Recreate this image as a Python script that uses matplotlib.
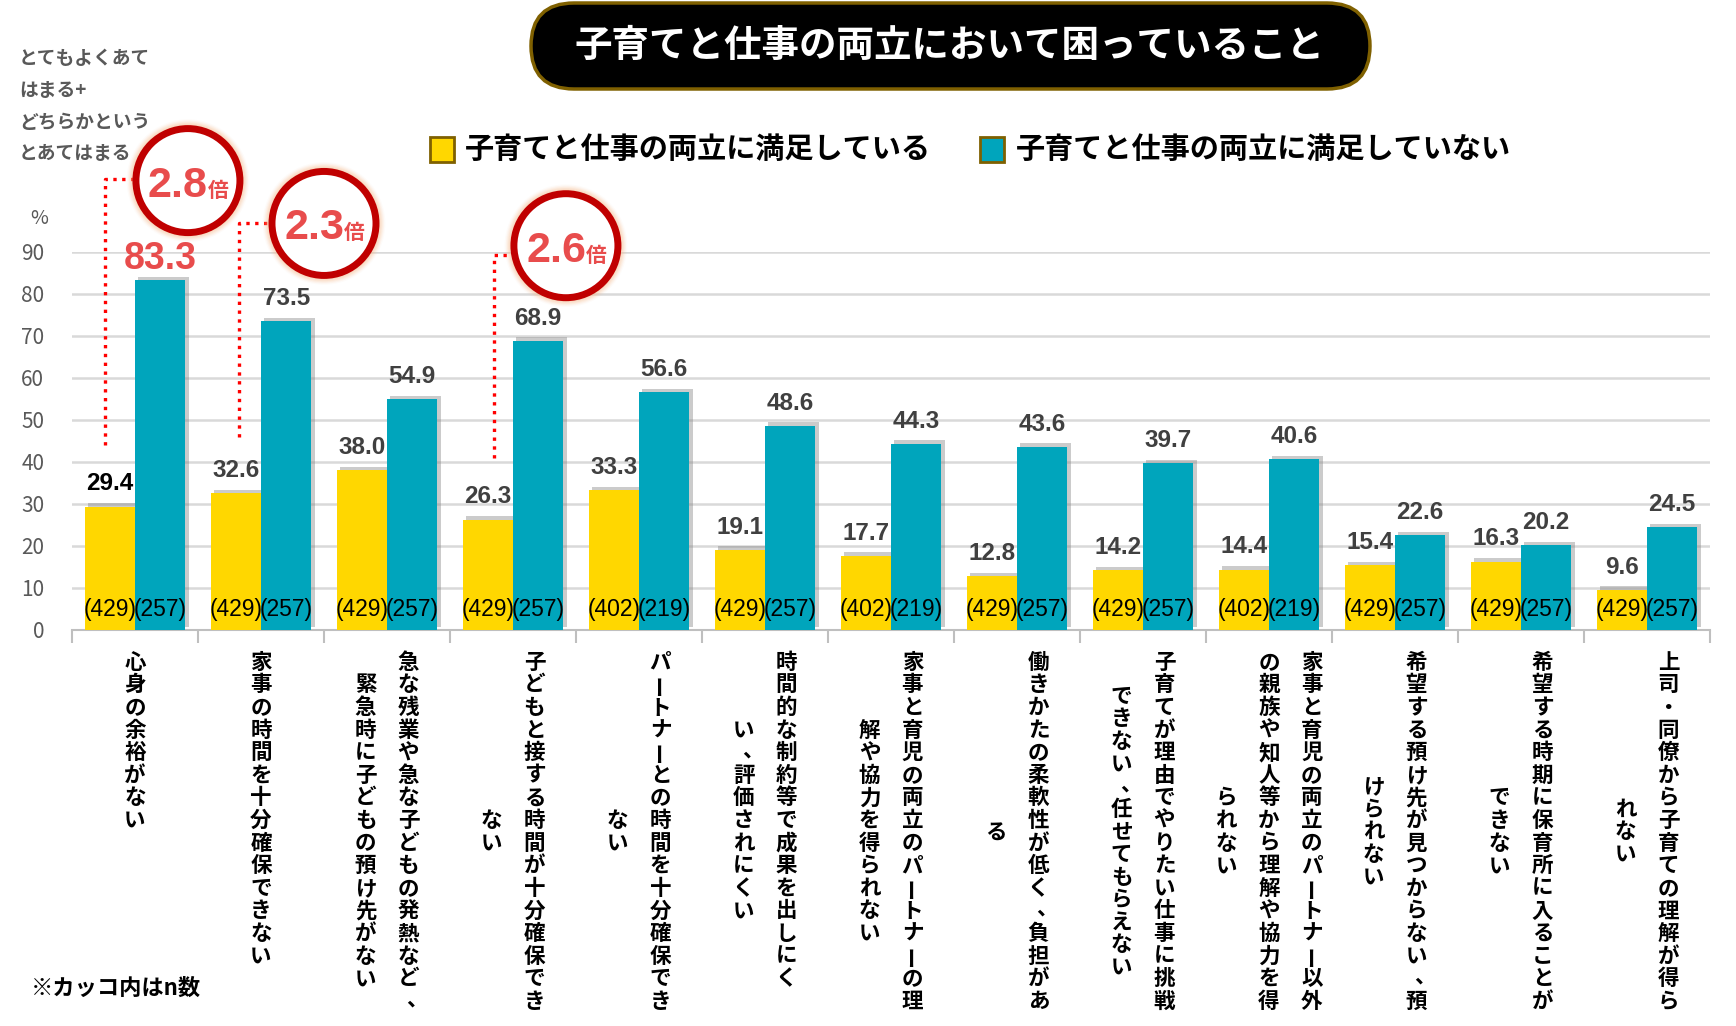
import numpy as np
import matplotlib.pyplot as plt
from matplotlib.patches import FancyBboxPatch, Rectangle, Circle
from matplotlib import patheffects
from matplotlib.transforms import ScaledTranslation, blended_transform_factory

plt.rcParams['font.family'] = ['Noto Sans CJK JP', 'DejaVu Sans']

# ---- data ----
categories = [
    ["心身の余裕がない"],
    ["家事の時間を十分確保できない"],
    ["急な残業や急な子どもの発熱など、", "緊急時に子どもの預け先がない"],
    ["子どもと接する時間が十分確保でき", "ない"],
    ["パートナーとの時間を十分確保でき", "ない"],
    ["時間的な制約等で成果を出しにく", "い、評価されにくい"],
    ["家事と育児の両立のパートナーの理", "解や協力を得られない"],
    ["働きかたの柔軟性が低く、負担があ", "る"],
    ["子育てが理由でやりたい仕事に挑戦", "できない、任せてもらえない"],
    ["家事と育児の両立のパートナー以外", "の親族や知人等から理解や協力を得", "られない"],
    ["希望する預け先が見つからない、預", "けられない"],
    ["希望する時期に保育所に入ることが", "できない"],
    ["上司・同僚から子育ての理解が得ら", "れない"],
]
satisfied = [29.4, 32.6, 38.0, 26.3, 33.3, 19.1, 17.7, 12.8, 14.2, 14.4, 15.4, 16.3, 9.6]
not_satisfied = [83.3, 73.5, 54.9, 68.9, 56.6, 48.6, 44.3, 43.6, 39.7, 40.6, 22.6, 20.2, 24.5]
n_satisfied = [429, 429, 429, 429, 402, 429, 402, 429, 429, 402, 429, 429, 429]
n_not_satisfied = [257, 257, 257, 257, 219, 257, 219, 257, 257, 219, 257, 257, 257]
legend_labels = ["子育てと仕事の両立に満足している", "子育てと仕事の両立に満足していない"]
ratio_text = ["2.8", "2.3", "2.6"]

title = "子育てと仕事の両立において困っていること"
ylabel_note = ["とてもよくあて", "はまる+", "どちらかという", "とあてはまる"]

YELLOW = '#FFD700'
TEAL = '#00A5BC'
NUMFONT = ['Liberation Sans', 'DejaVu Sans']

W, H = 1736, 1026
fig = plt.figure(figsize=(W / 100, H / 100), dpi=100)
inch = fig.dpi_scale_trans


def pos(x, y):
    # pixel (from top-left) -> inches
    return x / 100, (H - y) / 100


ax = fig.add_axes([72 / W, 1 - 630 / H, (1710 - 72) / W, (630 - 252) / H])
x = np.arange(len(satisfied))

shadow = [patheffects.SimplePatchShadow(offset=(2.5, 2.5), shadow_rgbFace='#7f7f7f', alpha=0.4),
          patheffects.Normal()]
b1 = ax.bar(x - 0.2, satisfied, 0.4, color=YELLOW, zorder=3)
b2 = ax.bar(x + 0.2, not_satisfied, 0.4, color=TEAL, zorder=3)
for b in list(b1) + list(b2):
    b.set_path_effects(shadow)

ax.set_xlim(-0.5, 12.5)
ax.set_ylim(0, 90)
ax.set_yticks(range(0, 91, 10))
ax.yaxis.grid(True, color='#D9D9D9', lw=1.8)
ax.set_axisbelow(True)
ax.tick_params(axis='y', length=0, pad=20, labelsize=15, labelcolor='#595959')
ax.set_xticks(np.arange(-0.5, 13, 1))
ax.set_xticklabels([])
ax.tick_params(axis='x', length=9, color='#BFBFBF', width=1.5)
for s in ['left', 'right', 'top']:
    ax.spines[s].set_visible(False)
ax.spines['bottom'].set_color('#BFBFBF')
ax.spines['bottom'].set_linewidth(1.5)

# value labels
for i, v in enumerate(satisfied):
    ax.annotate(f'{v:.1f}', (i - 0.2, v), xytext=(0, 8), textcoords='offset points',
                ha='center', va='bottom', fontsize=17.5, fontweight='bold',
                color='black' if i == 0 else '#404040', family=NUMFONT, zorder=4)
for i, v in enumerate(not_satisfied):
    if i == 0:
        ax.annotate(f'{v:.1f}', (i + 0.2, v), xytext=(0, 2), textcoords='offset points',
                    ha='center', va='bottom', fontsize=27, fontweight='bold',
                    color='#E84C4C', family=NUMFONT, zorder=4)
    else:
        ax.annotate(f'{v:.1f}', (i + 0.2, v), xytext=(0, 8), textcoords='offset points',
                    ha='center', va='bottom', fontsize=17.5, fontweight='bold',
                    color='#404040', family=NUMFONT, zorder=4)

# n labels
for i in range(len(x)):
    ax.text(i - 0.2, 4.8, f'({n_satisfied[i]})', ha='center', va='center',
            fontsize=16.5, family=NUMFONT, zorder=4)
    ax.text(i + 0.2, 4.8, f'({n_not_satisfied[i]})', ha='center', va='center',
            fontsize=16.5, family=NUMFONT, zorder=4)

# vertical category labels (tategaki)
tr = blended_transform_factory(ax.transData, inch)
step = 22.6
top = 651
for i, lines in enumerate(categories):
    nl = len(lines)
    maxlen = max(len(l) for l in lines)
    for j, line in enumerate(lines):
        xoff = (nl - 1) / 2 * 0.34 - j * 0.34
        start = top + (maxlen - len(line)) / 2 * step
        for k, ch in enumerate(line):
            yc = start + (k + 0.5) * step
            rot = 0
            dx = 0
            if ch == 'ー':
                rot = 90
            if ch in '、。':
                dx = 0.07
                yc -= 0.12 * step
            ax.text(i + xoff + dx, (H - yc) / 100, ch, transform=tr, ha='center',
                    va='center', fontsize=15.5, fontweight='bold', rotation=rot,
                    clip_on=False)

# dotted connectors and ratio circles
connectors = [
    ([-0.235, -0.235, 0.0], [44, 107.5, 107.5]),
    ([0.825, 0.825, 1.1], [46, 97, 97]),
    ([2.846, 2.846, 3.0], [41, 89.2, 89.2]),
]
circle_xy = [(0.42, 107.0), (1.5, 96.8), (3.42, 91.5)]
for (xs, ys) in connectors:
    ax.plot(xs, ys, color='#FF0000', ls=':', lw=2.4, clip_on=False, zorder=5)

for (cx, cy), lab in zip(circle_xy, ratio_text):
    t = inch + ScaledTranslation(cx, cy, ax.transData)
    for k in range(1, 7):
        ax.add_patch(Circle((0, 0), 0.52 + 0.012 * k, transform=t, fill=False,
                            edgecolor='#F8B98A', alpha=0.32 - 0.045 * k, lw=3,
                            clip_on=False, zorder=6))
    ax.add_patch(Circle((0, 0), 0.52, transform=t, facecolor='white',
                        edgecolor='#C00000', lw=5, clip_on=False, zorder=7))
    ax.text(0.2, -0.16, lab, transform=t, ha='right', va='baseline', fontsize=31,
            fontweight='bold', color='#E84C4C', family=NUMFONT, zorder=8)
    ax.text(0.2, -0.16, '倍', transform=t, ha='left', va='baseline', fontsize=15,
            fontweight='bold', color='#E84C4C', zorder=8)

# title pill
px, py = pos(531, 89)
fig.patches.append(FancyBboxPatch((px, py), 8.39, 0.86, transform=inch,
                                  boxstyle='round,pad=0,rounding_size=0.43',
                                  facecolor='black', edgecolor='#7F6000', lw=2.5))
fig.text(*pos(950, 45), title, transform=inch, ha='center', va='center',
         fontsize=27, fontweight='bold', color='white')

# legend
for (sx, tx), col, lab in zip([(430, 465), (980, 1016)], [YELLOW, TEAL], legend_labels):
    fig.patches.append(Rectangle(pos(sx, 162), 0.24, 0.25, transform=inch,
                                 facecolor=col, edgecolor='#7F6000', lw=2))
    fig.text(*pos(tx, 149), lab, transform=inch, ha='left', va='center',
             fontsize=21, fontweight='bold', color='black')

# notes
for k, line in enumerate(ylabel_note):
    fig.text(*pos(19, 59 + 31.5 * k), line, transform=inch, ha='left', va='center',
             fontsize=13.5, fontweight='bold', color='#595959')
fig.text(*pos(39, 219), '%', transform=inch, ha='center', va='center',
         fontsize=14, color='#595959')
fig.text(*pos(31, 988), '※カッコ内はn数', transform=inch, ha='left', va='center',
         fontsize=16, fontweight='bold', color='black')

plt.savefig('out.png', dpi=100)
